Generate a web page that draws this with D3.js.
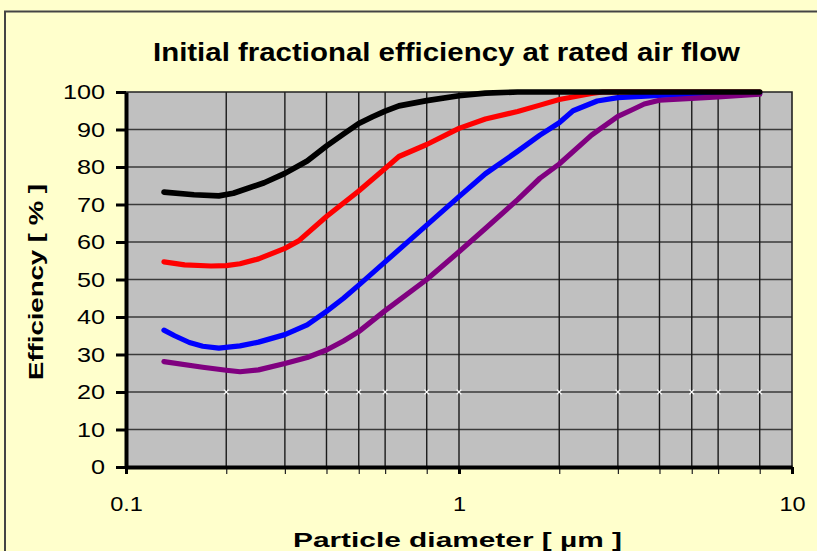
<!DOCTYPE html>
<html>
<head>
<meta charset="utf-8">
<script src="https://cdn.jsdelivr.net/npm/d3@7"></script>
<style>
    body { margin: 0; background: #ffffcc; }
    text { font-family: "Liberation Sans", Arial, sans-serif; fill: #000; }
</style>
</head>
<body>
<div id="chart"></div>
<script>
// Chart data (particle diameter in µm, efficiency in %)
const blackSeries = [[0.13,73.3],[0.16,72.6],[0.19,72.3],[0.21,73.0],[0.23,74.2],[0.26,75.8],[0.3,78.3],[0.35,81.6],[0.4,85.6],[0.45,88.8],[0.5,91.6],[0.55,93.4],[0.6,94.9],[0.66,96.3],[0.8,97.7],[1.0,99.0],[1.2,99.7],[1.5,100],[2,100],[3,100],[4,100],[5,100],[6,100],[8,100]];
const redSeries = [[0.13,54.7],[0.15,53.9],[0.18,53.6],[0.2,53.7],[0.22,54.2],[0.25,55.5],[0.3,58.3],[0.33,60.3],[0.4,66.8],[0.5,73.6],[0.6,79.6],[0.66,82.8],[0.8,86],[1.0,90.3],[1.2,92.8],[1.5,94.8],[1.75,96.5],[2,98],[2.5,99.6],[2.7,100],[3,100],[4,100],[6,100],[8,100]];
const blueSeries = [[0.13,36.5],[0.14,35],[0.155,33.2],[0.17,32.2],[0.19,31.7],[0.22,32.3],[0.25,33.3],[0.3,35.3],[0.35,37.9],[0.4,41.5],[0.45,45],[0.5,48.5],[0.6,54.7],[0.8,64.5],[1.0,72.1],[1.2,78.2],[1.5,84.2],[1.75,88.5],[2,91.8],[2.2,95],[2.6,97.6],[3,98.5],[4,99.1],[6,99.5],[8,99.7]];
const purpleSeries = [[0.13,28.1],[0.17,26.6],[0.2,25.8],[0.22,25.4],[0.25,25.9],[0.3,27.6],[0.35,29.2],[0.4,31.2],[0.45,33.6],[0.5,36.1],[0.6,41.7],[0.8,50],[1.0,57.4],[1.2,63.6],[1.5,71.3],[1.75,77],[2,80.8],[2.5,88.5],[3,93.5],[3.3,95.2],[3.6,96.8],[4,97.8],[5,98.3],[6,98.7],[8,99.4]];

const xMajorTicks = [0.1, 1, 10];
const xGridValues = [0.2, 0.3, 0.4, 0.5, 0.6, 0.8, 1, 2, 3, 4, 5, 6, 8];
const yTicks = [0, 10, 20, 30, 40, 50, 60, 70, 80, 90, 100];
const markerY = 20;

const titleText = "Initial fractional efficiency at rated air flow";
const xLabel = "Particle diameter  [ µm ]";
const yLabel = "Efficiency  [ % ]";

// Dimensions
const width = 817;
const height = 551;
const margin = { top: 92, right: 25, bottom: 84, left: 126 };

const svg = d3.select("#chart")
    .append("svg")
    .attr("width", width)
    .attr("height", height);

// Outer frame (only top/left visible in the picture)
svg.append("path")
    .attr("d", `M5,${height + 5} V11.5 H${width + 5}`)
    .attr("fill", "none")
    .attr("stroke", "#444")
    .attr("stroke-width", 2);

// Scales
const xScale = d3.scaleLog()
    .domain([0.1, 10])
    .range([margin.left, width - margin.right]);

const yScale = d3.scaleLinear()
    .domain([0, 100])
    .range([height - margin.bottom, margin.top]);

// Plot background
svg.append("rect")
    .attr("x", margin.left)
    .attr("y", margin.top)
    .attr("width", xScale(10) - margin.left)
    .attr("height", yScale(0) - margin.top)
    .attr("fill", "#c0c0c0");

// Gridlines
svg.append("g")
    .selectAll("line")
    .data(yTicks.slice(1, -1))
    .join("line")
    .attr("x1", margin.left)
    .attr("x2", xScale(10))
    .attr("y1", (d) => yScale(d))
    .attr("y2", (d) => yScale(d))
    .attr("stroke", "#3a3a3a")
    .attr("stroke-width", 1.3);

svg.append("g")
    .selectAll("line")
    .data(xGridValues)
    .join("line")
    .attr("x1", (d) => xScale(d))
    .attr("x2", (d) => xScale(d))
    .attr("y1", margin.top)
    .attr("y2", yScale(0))
    .attr("stroke", "#1a1a1a")
    .attr("stroke-width", 1.4);

// Small white markers along the 20 % gridline
const cross = d3.symbol().type(d3.symbolTimes).size(16);
svg.append("g")
    .selectAll("path")
    .data(xGridValues)
    .join("path")
    .attr("transform", (d) => `translate(${xScale(d)},${yScale(markerY)})`)
    .attr("d", cross)
    .attr("fill", "none")
    .attr("stroke", "#fff")
    .attr("stroke-width", 1.3);

// Plot border (top and right)
svg.append("path")
    .attr("d", `M${margin.left},${margin.top} H${xScale(10)} V${yScale(0)}`)
    .attr("fill", "none")
    .attr("stroke", "#222")
    .attr("stroke-width", 1.6);

// Curves
const line = d3.line()
    .x((d) => xScale(d[0]))
    .y((d) => yScale(d[1]));

const series = [
    { values: redSeries, color: "#ff0000", w: 5.2 },
    { values: blueSeries, color: "#0000ff", w: 5.2 },
    { values: purpleSeries, color: "#800080", w: 5.2 },
    { values: blackSeries, color: "#000000", w: 5.6 },
];

svg.append("g")
    .selectAll("path")
    .data(series)
    .join("path")
    .attr("d", (d) => line(d.values))
    .attr("fill", "none")
    .attr("stroke", (d) => d.color)
    .attr("stroke-width", (d) => d.w)
    .attr("stroke-linejoin", "round")
    .attr("stroke-linecap", "round");

// Stretch text horizontally like the original rendering
function stretch(sel, k) {
    sel.each(function () {
        const len = this.getComputedTextLength();
        d3.select(this).attr("textLength", len * k).attr("lengthAdjust", "spacingAndGlyphs");
    });
}

// Axes
const xAxisMinor = d3.axisBottom(xScale)
    .tickValues(xGridValues.filter((d) => d !== 1))
    .tickSize(7)
    .tickSizeOuter(0)
    .tickFormat("");

const gxMinor = svg.append("g")
    .attr("transform", `translate(0, ${yScale(0)})`)
    .call(xAxisMinor);
gxMinor.select(".domain").remove();
gxMinor.selectAll(".tick line").attr("stroke", "#222").attr("stroke-width", 1.2);

const xAxis = d3.axisBottom(xScale)
    .tickValues(xMajorTicks)
    .tickSize(7)
    .tickSizeOuter(0)
    .tickPadding(22)
    .tickFormat(d3.format(""));

const gx = svg.append("g")
    .attr("transform", `translate(0, ${yScale(0)})`)
    .call(xAxis);
gx.select(".domain").attr("stroke", "#000").attr("stroke-width", 4);
gx.selectAll(".tick line").attr("stroke", "#000").attr("stroke-width", 3);
gx.selectAll(".tick text")
    .style("font-size", "21px")
    .call(stretch, 1.12);

const yAxis = d3.axisLeft(yScale)
    .tickValues(yTicks)
    .tickSize(10)
    .tickSizeOuter(0)
    .tickPadding(11);

const gy = svg.append("g")
    .attr("transform", `translate(${margin.left}, 0)`)
    .call(yAxis);
gy.select(".domain").attr("stroke", "#000").attr("stroke-width", 4);
gy.selectAll(".tick line").attr("stroke", "#000").attr("stroke-width", 3);
gy.selectAll(".tick text")
    .style("font-size", "21px")
    .call(stretch, 1.2);

// Title
svg.append("text")
    .attr("x", 446.5)
    .attr("y", 61)
    .attr("text-anchor", "middle")
    .style("font-size", "25px")
    .style("font-weight", "bold")
    .attr("textLength", 587)
    .attr("lengthAdjust", "spacingAndGlyphs")
    .text(titleText);

// Axis labels
svg.append("text")
    .attr("x", 457.5)
    .attr("y", 547)
    .attr("text-anchor", "middle")
    .style("font-size", "21px")
    .style("font-weight", "bold")
    .attr("textLength", 329)
    .attr("lengthAdjust", "spacingAndGlyphs")
    .text(xLabel);

svg.append("text")
    .attr("transform", "rotate(-90)")
    .attr("x", -282)
    .attr("y", 43)
    .attr("text-anchor", "middle")
    .style("font-size", "21px")
    .style("font-weight", "bold")
    .attr("textLength", 196)
    .attr("lengthAdjust", "spacingAndGlyphs")
    .text(yLabel);
</script>
</body>
</html>
